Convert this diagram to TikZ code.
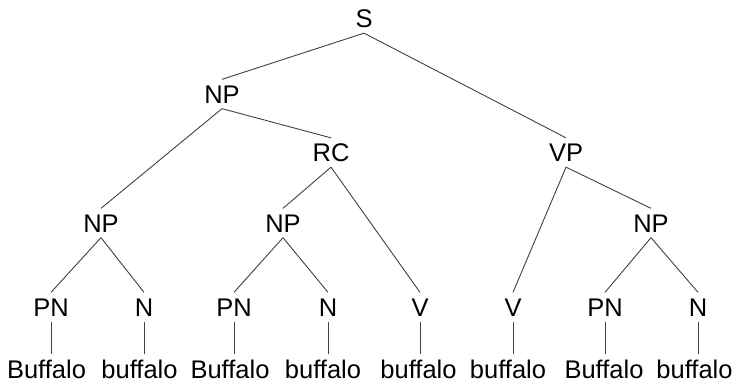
\documentclass[tikz,border=0pt]{standalone}
\usepackage{fontspec}
\setmainfont{Liberation Sans}
\begin{document}
\begin{tikzpicture}[x=1pt,y=-1pt,
  cat/.style={inner xsep=0pt, inner ysep=5.5pt, outer sep=0pt, text height=18.3pt, text depth=0pt, font=\fontsize{25.5}{29}\selectfont},
  word/.style={inner xsep=0pt, inner ysep=6pt, outer sep=0pt, text height=18.3pt, text depth=0pt, font=\fontsize{25.5}{29}\selectfont},
  br/.style={line width=0.9pt, draw=black!75}]
\useasboundingbox (0,0) rectangle (735,382);
% categories
\node[cat] (S) at (364,18.5) {S};
\node[cat] (NP1) at (222,94) {NP};
\node[cat] (RC) at (331,152.5) {RC};
\node[cat] (VP) at (566,152.5) {VP};
\node[cat] (NP2) at (101,223) {NP};
\node[cat] (NP3) at (283,223) {NP};
\node[cat] (NP4) at (651,223) {NP};
\node[cat] (PN1) at (51,307) {PN};
\node[cat] (N1) at (144,307) {N};
\node[cat] (PN2) at (234,307) {PN};
\node[cat] (N2) at (328,307) {N};
\node[cat] (V1) at (420,307) {V};
\node[cat] (V2) at (513,307) {V};
\node[cat] (PN3) at (605,307) {PN};
\node[cat] (N3) at (698,307) {N};
% words
\node[word] (w1) at (46.5,369.5) {Buffalo};
\node[word] (w2) at (139.5,369.5) {buffalo};
\node[word] (w3) at (230,369.5) {Buffalo};
\node[word] (w4) at (323,369.5) {buffalo};
\node[word] (w5) at (418.5,369.5) {buffalo};
\node[word] (w6) at (508,369.5) {buffalo};
\node[word] (w7) at (604,369.5) {Buffalo};
\node[word] (w8) at (694.5,369.5) {buffalo};
% branches
\draw[br] (S.south) -- (NP1.north);
\draw[br] (S.south) -- (VP.north);
\draw[br] (NP1.south) -- (NP2.north);
\draw[br] (NP1.south) -- (RC.north);
\draw[br] (RC.south) -- (NP3.north);
\draw[br] (RC.south) -- (V1.north);
\draw[br] (VP.south) -- (V2.north);
\draw[br] (VP.south) -- (NP4.north);
\draw[br] (NP2.south) -- (PN1.north);
\draw[br] (NP2.south) -- (N1.north);
\draw[br] (NP3.south) -- (PN2.north);
\draw[br] (NP3.south) -- (N2.north);
\draw[br] (NP4.south) -- (PN3.north);
\draw[br] (NP4.south) -- (N3.north);
% leaves
\foreach \c/\w in {PN1/w1,N1/w2,PN2/w3,N2/w4,V1/w5,V2/w6,PN3/w7,N3/w8}
  \draw[br] (\c.south) -- (\c.south |- \w.north);
\end{tikzpicture}
\end{document}
